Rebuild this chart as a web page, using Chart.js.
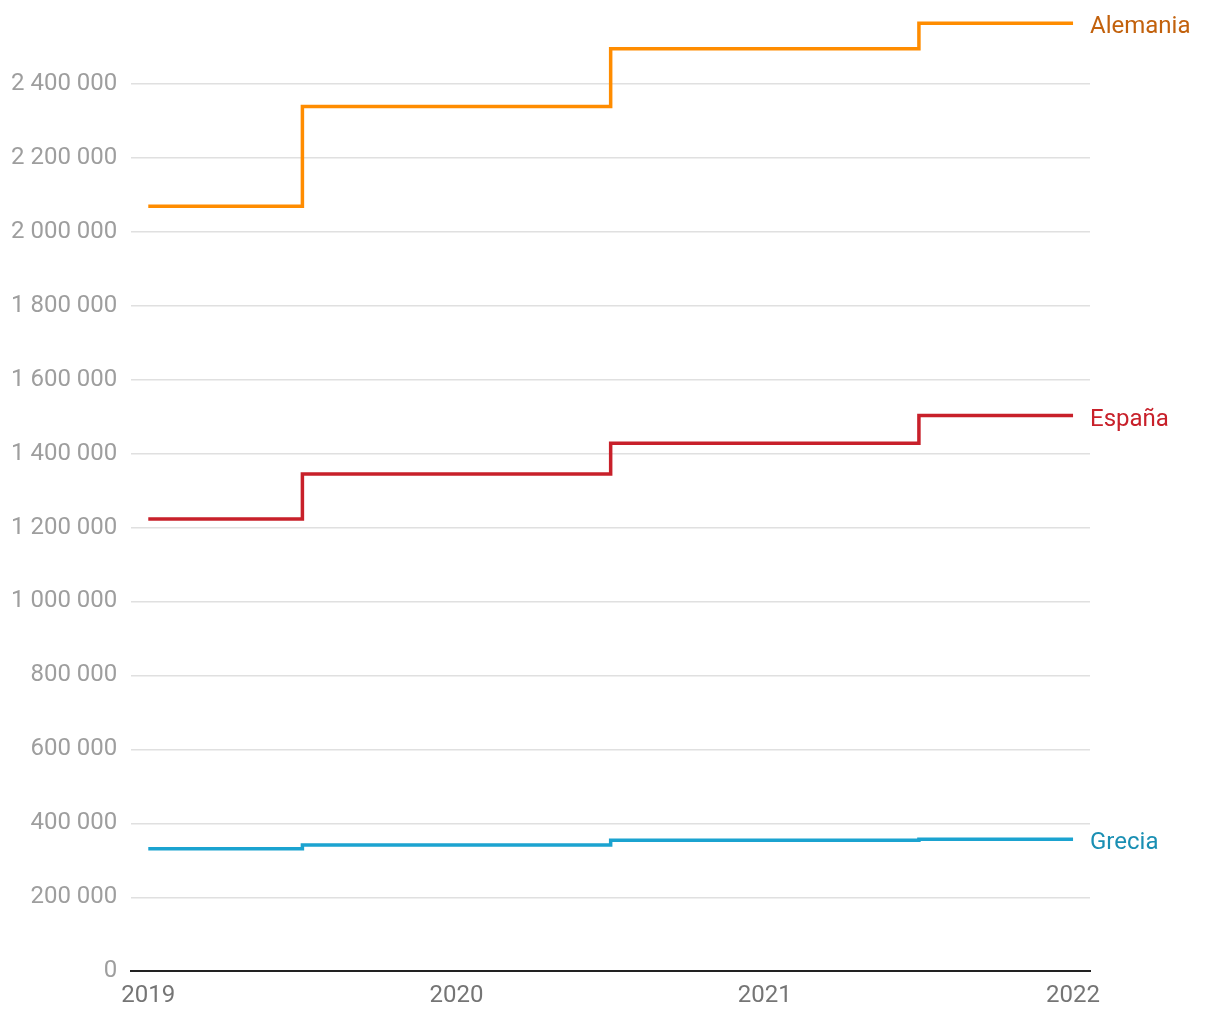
<!DOCTYPE html>
<html>
<head>
<meta charset="utf-8">
<script src="https://cdn.jsdelivr.net/npm/chart.js"></script>
<style>
  html, body { margin: 0; padding: 0; background: #fff; }
  #wrap { position: relative; width: 1220px; height: 1020px; }
</style>
</head>
<body>
<div id="wrap"><canvas id="chart"></canvas></div>
<script>
const years = [2019, 2020, 2021, 2022];
const alemania = [2069000, 2339000, 2495000, 2564000];
const espana = [1223000, 1345000, 1428000, 1503000];
const grecia = [331000, 341000, 354000, 357000];
const seriesNames = ["Alemania", "España", "Grecia"];
const yTicks = [0, 200000, 400000, 600000, 800000, 1000000, 1200000, 1400000, 1600000, 1800000, 2000000, 2200000, 2400000];

const lineColors = ["#ff8c00", "#c8202a", "#1ba3d0"];
const labelColors = ["#c2610c", "#c8202a", "#1a8fb3"];

function fmt(v) {
  return String(v).replace(/\B(?=(\d{3})+(?!\d))/g, " ");
}

function toPoints(vals) {
  return years.map((y, i) => ({ x: y, y: vals[i] }));
}

// labels at the end of each line
const endLabels = {
  id: "endLabels",
  afterDatasetsDraw(chart) {
    const ctx = chart.ctx;
    ctx.save();
    ctx.font = "24px Roboto";
    ctx.textBaseline = "middle";
    ctx.textAlign = "left";
    chart.data.datasets.forEach((ds, i) => {
      const meta = chart.getDatasetMeta(i);
      const last = meta.data[meta.data.length - 1];
      ctx.fillStyle = labelColors[i];
      ctx.fillText(ds.label, chart.chartArea.right, last.y + 4);
    });
    ctx.restore();
  }
};

const datasets = [alemania, espana, grecia].map((vals, i) => ({
  label: seriesNames[i],
  data: toPoints(vals),
  borderColor: lineColors[i],
  borderWidth: 3.5,
  stepped: "middle",
  pointRadius: 0,
  fill: false,
  clip: false
}));

new Chart(document.getElementById("chart"), {
  type: "line",
  data: { datasets: datasets },
  plugins: [endLabels],
  options: {
    responsive: true,
    maintainAspectRatio: false,
    animation: false,
    layout: { padding: { left: -3, right: 130, top: 0, bottom: 0 } },
    plugins: { legend: { display: false }, tooltip: { enabled: false } },
    scales: {
      x: {
        type: "linear",
        min: 2018.945,
        max: 2022.055,
        afterBuildTicks(axis) { axis.ticks = years.map(v => ({ value: v })); },
        grid: { display: false, drawTicks: false },
        border: { display: true, color: "#222", width: 2 },
        ticks: {
          color: "#757575",
          font: { family: "Roboto", size: 24 },
          padding: 10,
          maxRotation: 0,
          callback: v => String(v)
        }
      },
      y: {
        min: 0,
        max: 2550000,
        afterBuildTicks(axis) { axis.ticks = yTicks.map(v => ({ value: v })); },
        grid: { color: "#e0e0e0", lineWidth: 1.5, drawTicks: false },
        border: { display: false },
        ticks: {
          color: "#9e9e9e",
          font: { family: "Roboto", size: 24 },
          padding: 14,
          callback: v => fmt(v)
        }
      }
    }
  }
});
</script>
</body>
</html>
